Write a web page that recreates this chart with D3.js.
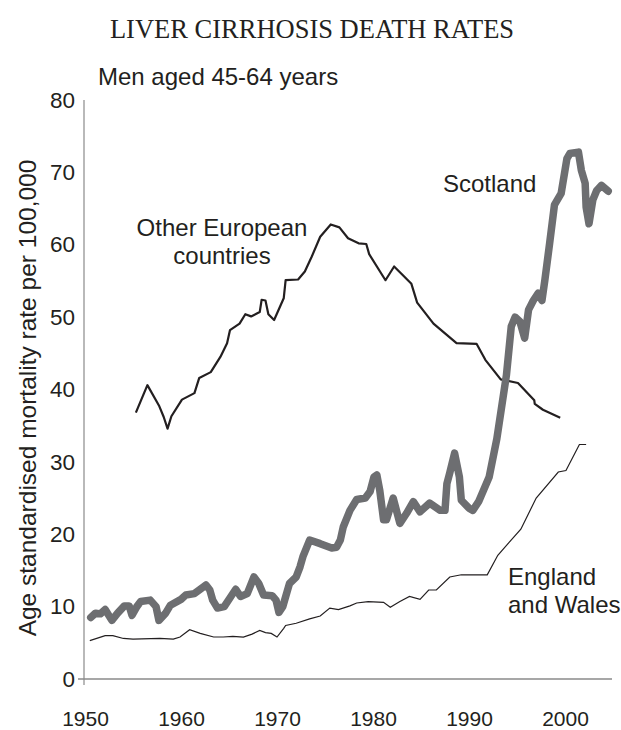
<!DOCTYPE html>
<html><head><meta charset="utf-8">
<script src="https://cdn.jsdelivr.net/npm/d3@7"></script>
<style>body{margin:0;background:#fff}</style>
</head><body>
<svg id="c" width="621" height="730"></svg>
<script>
const xTicks = [1950, 1960, 1970, 1980, 1990, 2000];
const yTicks = [0, 10, 20, 30, 40, 50, 60, 70, 80];

const scotYears = [1950.6,1951.1,1951.6,1952.1,1952.8,1953.4,1954.1,1954.6,1954.9,1955.4,1955.8,1956.8,1957.4,1957.7,1958.4,1958.9,1960.0,1960.5,1961.4,1961.9,1962.6,1963.0,1963.3,1963.8,1964.5,1965.2,1965.7,1966.2,1966.9,1967.6,1968.1,1968.6,1969.5,1969.9,1970.2,1970.6,1971.3,1972.0,1972.4,1972.7,1973.4,1974.5,1975.7,1976.2,1976.6,1976.9,1977.6,1978.3,1979.2,1979.7,1980.1,1980.4,1980.7,1981.1,1981.4,1982.1,1982.8,1983.5,1984.2,1984.9,1985.9,1987.0,1987.5,1987.7,1988.0,1988.5,1989.0,1989.2,1990.0,1990.4,1991.0,1992.1,1992.9,1993.9,1994.4,1994.8,1995.3,1995.8,1996.2,1996.7,1997.2,1997.6,1997.9,1998.4,1998.9,1999.6,2000.2,2000.5,2001.4,2001.7,2002.1,2002.2,2002.5,2002.9,2003.3,2003.8,2004.5];
const scotVals  = [8.5,9.1,9.0,9.6,8.1,9.1,10.1,10.1,8.8,10.0,10.7,10.9,10.0,8.1,9.1,10.2,11.0,11.6,11.8,12.3,13.0,12.3,10.9,9.8,10.0,11.4,12.4,11.4,11.8,14.1,13.2,11.6,11.5,10.9,9.2,10.0,13.2,14.1,15.5,16.9,19.2,18.7,18.1,18.2,19.2,21.0,23.3,24.8,25.0,25.9,27.9,28.2,26.1,22.0,22.0,25.0,21.5,22.9,24.5,23.1,24.3,23.3,23.3,27.0,28.5,31.2,27.9,24.7,23.6,23.3,24.5,27.9,33.2,42.0,48.7,50.0,49.4,47.1,51.0,52.3,53.3,52.3,55.1,60.2,65.5,67.1,71.9,72.6,72.8,70.3,68.5,65.2,62.9,66.2,67.5,68.2,67.4];

const ewYears = [1950.5,1952.1,1952.9,1954.0,1955.0,1957.8,1959.2,1959.9,1960.9,1962.0,1963.4,1964.4,1965.4,1966.5,1967.4,1968.2,1968.8,1969.4,1970.0,1970.7,1970.9,1972.0,1973.4,1974.5,1975.5,1976.4,1977.6,1978.3,1979.5,1981.1,1981.8,1982.8,1983.8,1984.9,1985.8,1986.6,1988.0,1989.2,1991.9,1993.0,1995.4,1997.0,1999.3,2000.1,2001.5,2002.2];
const ewVals  = [5.3,6.0,6.0,5.6,5.5,5.6,5.5,5.8,6.8,6.3,5.8,5.8,5.9,5.8,6.2,6.7,6.4,6.3,5.8,7.0,7.4,7.7,8.3,8.7,9.8,9.6,10.1,10.5,10.7,10.6,9.9,10.7,11.4,11.0,12.3,12.3,14.1,14.4,14.4,17.1,20.7,25.0,28.6,28.8,32.4,32.4];

const euYears = [1955.3,1956.5,1957.7,1958.2,1958.6,1959.0,1960.1,1961.4,1961.9,1963.1,1964.1,1964.8,1965.1,1966.1,1966.7,1967.3,1968.2,1968.4,1968.8,1969.1,1969.7,1970.7,1970.9,1972.2,1972.9,1973.6,1974.5,1975.6,1976.5,1977.4,1978.5,1979.3,1979.6,1981.3,1982.2,1984.0,1984.6,1986.3,1988.7,1990.8,1991.7,1993.3,1995.1,1996.8,1996.85,1997.7,1999.5];
const euVals  = [36.8,40.6,37.8,36.2,34.6,36.3,38.6,39.5,41.6,42.4,44.5,46.4,48.2,49.1,50.4,50.1,50.7,52.4,52.3,50.4,49.6,52.6,55.1,55.2,56.3,58.3,61.1,62.8,62.4,60.9,60.2,60.1,58.7,55.1,57.0,54.6,52.0,49.1,46.4,46.3,44.1,41.4,40.9,38.5,38.0,37.2,36.1];

const svg = d3.select("#c");
const x = d3.scaleLinear().domain([1950, 2000]).range([85, 565]);
const y = d3.scaleLinear().domain([0, 80]).range([679, 100]);
const sans = "'Liberation Sans', Arial, sans-serif";
const ink = "#231f20";

svg.append("text").attr("x", 312).attr("y", 38).attr("text-anchor", "middle")
  .attr("font-family", "'Liberation Serif', 'Times New Roman', serif").attr("font-size", 26.5)
  .attr("fill", ink).text("LIVER CIRRHOSIS DEATH RATES");

svg.append("text").attr("x", 98).attr("y", 85)
  .attr("font-family", sans).attr("font-size", 24).attr("fill", ink)
  .text("Men aged 45-64 years");

svg.append("text").attr("transform", "translate(36,398) rotate(-90)").attr("text-anchor", "middle")
  .attr("font-family", sans).attr("font-size", 24.5).attr("fill", ink)
  .text("Age standardised mortality rate per 100,000");

// axes
const axisColor = "#8a8a8a";
const yAxis = svg.append("g").attr("transform", "translate(84,0)")
  .call(d3.axisLeft(y).tickValues(yTicks).tickSize(0).tickPadding(9));
yAxis.select(".domain").remove();
yAxis.selectAll("text").attr("font-family", sans).attr("font-size", 22.5).attr("fill", ink);
svg.append("line").attr("x1", 84).attr("x2", 84).attr("y1", y(80)).attr("y2", y(0) + 6)
  .attr("stroke", axisColor).attr("stroke-width", 1.2);

const xAxis = svg.append("g").attr("transform", "translate(0,679)")
  .call(d3.axisBottom(x).tickValues(xTicks).tickFormat(d3.format("d")).tickSize(0).tickPadding(32));
xAxis.select(".domain").remove();
xAxis.selectAll("text").attr("font-family", sans).attr("font-size", 21).attr("fill", ink);
svg.append("line").attr("x1", 78).attr("x2", x(2004.9)).attr("y1", y(0)).attr("y2", y(0))
  .attr("stroke", axisColor).attr("stroke-width", 1.6);

const line = d3.line().x(d => x(d[0])).y(d => y(d[1]));
const zip = (a, b) => a.map((v, i) => [v, b[i]]);

svg.append("path").datum(zip(ewYears, ewVals)).attr("d", line)
  .attr("fill", "none").attr("stroke", ink).attr("stroke-width", 1.2);
svg.append("path").datum(zip(euYears, euVals)).attr("d", line)
  .attr("fill", "none").attr("stroke", ink).attr("stroke-width", 2.2).attr("stroke-linejoin", "round");
svg.append("path").datum(zip(scotYears, scotVals)).attr("d", line)
  .attr("fill", "none").attr("stroke", "#6d6e71").attr("stroke-width", 7.5)
  .attr("stroke-linejoin", "round").attr("stroke-linecap", "round");

function label(lines, lx, ly, anchor) {
  const t = svg.append("text").attr("font-family", sans).attr("font-size", 24)
    .attr("fill", ink).attr("text-anchor", anchor);
  lines.forEach((s, i) => t.append("tspan").attr("x", lx).attr("y", ly + i * 27.5).text(s));
}
label(["Other European", "countries"], 222, 236, "middle");
label(["Scotland"], 443, 192, "start");
label(["England", "and Wales"], 508, 585, "start");
</script>
</body></html>
